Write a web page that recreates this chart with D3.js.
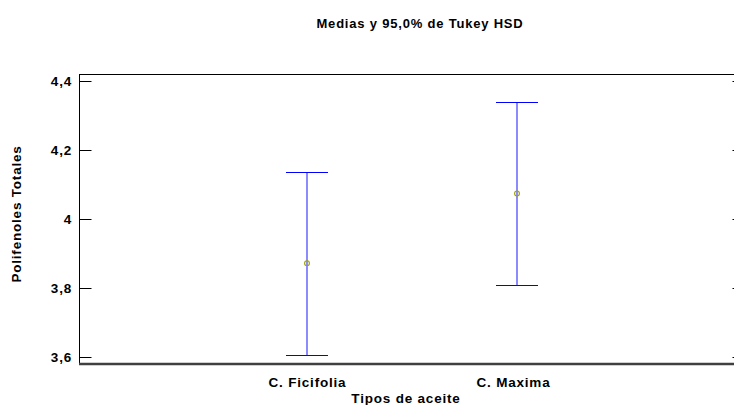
<!DOCTYPE html>
<html><head><meta charset="utf-8">
<script src="https://cdn.jsdelivr.net/npm/d3@7"></script>
<style>body{margin:0;background:#fff}svg{display:block}text{font-family:"Liberation Sans",Arial,sans-serif;font-weight:bold;letter-spacing:0.8px}</style>
</head><body>
<script>
const categories = ["C. Ficifolia", "C. Maxima"];
const means = [3.872, 4.074];
const lower = [3.606, 3.809];
const upper = [4.136, 4.339];
const yTicks = [3.6, 3.8, 4.0, 4.2, 4.4];
const yTickLabels = ["3,6", "3,8", "4", "4,2", "4,4"];
const title = "Medias y 95,0% de Tukey HSD";
const yTitle = "Polifenoles Totales";
const xTitle = "Tipos de aceite";

(function () {
const W = 734, H = 405;
const pLeft = 79, pTop = 74, pBottom = 364, pRight = 745;
const svg = d3.select("body").append("svg").attr("width", W).attr("height", H);

const y = d3.scaleLinear().domain([3.6, 4.4]).range([357, 81]);
const x = d3.scaleLinear().domain([-1.0857, 2.0857]).range([pLeft, pRight]);

// frame top/right
svg.append("line").attr("x1", pLeft).attr("x2", pRight).attr("y1", pTop + 0.5).attr("y2", pTop + 0.5).attr("stroke", "#000").attr("stroke-width", 1);
svg.append("line").attr("x1", pRight - 0.5).attr("x2", pRight - 0.5).attr("y1", pTop).attr("y2", pBottom).attr("stroke", "#000");

// left axis
const yAxis = d3.axisRight(y).tickValues(yTicks).tickSize(12).tickFormat("");
const ga = svg.append("g").attr("transform", `translate(${pLeft + 0.5},0)`).call(yAxis);
ga.select(".domain").remove();
ga.selectAll("line").attr("stroke", "#000");
svg.append("line").attr("x1", pLeft + 0.5).attr("x2", pLeft + 0.5).attr("y1", pTop).attr("y2", pBottom).attr("stroke", "#000");
// right ticks
const gr = svg.append("g").attr("transform", `translate(${pRight - 0.5},0)`).call(d3.axisLeft(y).tickValues(yTicks).tickSize(12).tickFormat(""));
gr.select(".domain").remove();
gr.selectAll("line").attr("stroke", "#000");

// tick labels
svg.selectAll("text.yl").data(yTicks).enter().append("text")
  .attr("x", pLeft - 7).attr("y", d => y(d) + 4.5).attr("text-anchor", "end")
  .attr("font-size", 13.5).attr("fill", "#000").text((d, i) => yTickLabels[i]);

// bottom axis
svg.append("line").attr("x1", pLeft).attr("x2", W).attr("y1", pBottom).attr("y2", pBottom).attr("stroke", "#404040").attr("stroke-width", 2.5);

// error bars
const g = svg.append("g");
categories.forEach((c, i) => {
  const cx = x(i);
  g.append("line").attr("x1", cx).attr("x2", cx).attr("y1", y(upper[i])).attr("y2", y(lower[i])).attr("stroke", "#5a5aff").attr("stroke-width", 1.4);
  [upper[i], lower[i]].forEach(v => {
    g.append("line").attr("x1", cx - 21).attr("x2", cx + 21).attr("y1", Math.round(y(v)) + 0.5).attr("y2", Math.round(y(v)) + 0.5).attr("stroke", "#0000ff").attr("stroke-width", 1);
  });
  g.append("circle").attr("cx", cx).attr("cy", y(means[i])).attr("r", 2.4)
    .attr("fill", "none").attr("stroke", "#a0a000").attr("stroke-width", 1.1);
  svg.append("text").attr("x", cx + 0.5 - (i === 1 ? 4 : 0)).attr("y", 387).attr("text-anchor", "middle").attr("font-size", 13.5).attr("fill", "#000").text(c);
});

svg.append("text").attr("x", 420).attr("y", 28).attr("text-anchor", "middle").attr("font-size", 13).text(title);
svg.append("text").attr("x", 406).attr("y", 402.5).attr("text-anchor", "middle").attr("font-size", 13.5).text(xTitle);
svg.append("text").attr("transform", "translate(21,214) rotate(-90)").attr("text-anchor", "middle").attr("font-size", 13.5).text(yTitle);
})();
</script>
</body></html>
